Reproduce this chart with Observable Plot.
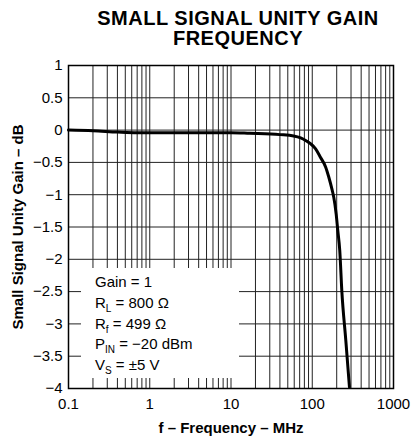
<!DOCTYPE html>
<html>
<head>
<meta charset="utf-8">
<script src="https://cdn.jsdelivr.net/npm/d3@7"></script>
<script src="https://cdn.jsdelivr.net/npm/@observablehq/plot@0.6"></script>
<style>
  body { margin: 0; background: #fff; font-family: "Liberation Sans", Arial, Helvetica, sans-serif; }
  #wrap { position: relative; width: 413px; height: 444px; overflow: hidden; }
  #title { width: 413px; height: 52px; box-sizing: border-box; padding-top: 8px; padding-left: 63px;
           text-align: center; font-weight: bold; font-size: 20px; line-height: 20px; letter-spacing: 0.5px; color: #000; }
  #legend { position: absolute; left: 81px; top: 268px; width: 158px; height: 110px; background: #fff;
            box-sizing: border-box; padding: 4px 0 0 14px; font-size: 15px; line-height: 20.8px; color: #000; }
  #legend sub { font-size: 10px; vertical-align: -4px; line-height: 0; }
  #chart svg { display: block; }
</style>
</head>
<body>
<div id="wrap">
  <div id="title">SMALL SIGNAL UNITY GAIN<br>FREQUENCY</div>
  <div id="chart"></div>
  <div id="legend"></div>
</div>
<script>
// Data
const freqMHz = [0.1, 0.2, 0.4, 0.7, 1, 3, 10, 17, 40, 59, 72, 83, 95, 110, 126, 146, 160, 176, 184, 197, 206, 218, 231, 259, 287];
const gainDb  = [0, -0.01, -0.03, -0.04, -0.04, -0.04, -0.04, -0.05, -0.07, -0.09, -0.12, -0.16, -0.21, -0.29, -0.42, -0.57, -0.73, -0.93, -1.04, -1.30, -1.55, -1.86, -2.48, -3.26, -3.98];

const xTicks = [0.1, 1, 10, 100, 1000];
const xTickLabels = ["0.1", "1", "10", "100", "1000"];
const yTicks = [1, 0.5, 0, -0.5, -1, -1.5, -2, -2.5, -3, -3.5, -4];
const yTickLabels = ["1", "0.5", "0", "\u22120.5", "\u22121", "\u22121.5", "\u22122", "\u22122.5", "\u22123", "\u22123.5", "\u22124"];
const xGrid = [0.2, 0.3, 0.4, 0.5, 0.6, 0.7, 0.8, 0.9, 1, 2, 3, 4, 5, 6, 7, 8, 9, 10,
               20, 30, 40, 50, 60, 70, 80, 90, 100, 200, 300, 400, 500, 600, 700, 800, 900];

const legendLines = [
  "Gain = 1",
  "R<sub>L</sub> = 800 \u03A9",
  "R<sub>f</sub> = 499 \u03A9",
  "P<sub>IN</sub> = \u221220 dBm",
  "V<sub>S</sub> = \u00B15 V"
];
const xLabel = "f \u2013 Frequency \u2013 MHz";
const yLabel = "Small Signal Unity Gain \u2013 dB";

const data = freqMHz.map((f, i) => ({f, g: gainDb[i]}));

const chart = Plot.plot({
  width: 413,
  height: 392,
  marginTop: 13,
  marginBottom: 56,
  marginLeft: 68,
  marginRight: 20,
  style: { fontFamily: '"Liberation Sans", Arial, Helvetica, sans-serif', fontSize: "15px", color: "#000", background: "#fff" },
  x: { type: "log", domain: [0.1, 1000] },
  y: { domain: [-4, 1] },
  marks: [
    Plot.ruleX(xGrid, { stroke: "#222", strokeWidth: 1 }),
    Plot.ruleY(yTicks, { stroke: "#222", strokeWidth: 1 }),
    Plot.line(data, { x: "f", y: "g", stroke: "#000", strokeWidth: 3, curve: "monotone-x" }),
    Plot.frame({ stroke: "#000", strokeWidth: 1.5 }),
    Plot.axisX(xTicks, { tickSize: 0, tickPadding: 10, fontSize: 15, label: null,
      tickFormat: d => xTickLabels[xTicks.indexOf(d)] }),
    Plot.axisY(yTicks, { tickSize: 0, tickPadding: 6, fontSize: 15, label: null,
      tickFormat: d => yTickLabels[yTicks.indexOf(d)] }),
    Plot.text([xLabel], { text: d => d, frameAnchor: "bottom", dy: 40, fontWeight: "bold", fontSize: 15, lineAnchor: "middle", textAnchor: "middle" }),
    Plot.text([yLabel], { text: d => d, frameAnchor: "left", rotate: -90, dx: -50, fontWeight: "bold", fontSize: 15, lineAnchor: "middle", textAnchor: "middle" })
  ]
});
document.getElementById("chart").appendChild(chart);
document.getElementById("legend").innerHTML = legendLines.map(s => `<div>${s}</div>`).join("");
</script>
</body>
</html>
